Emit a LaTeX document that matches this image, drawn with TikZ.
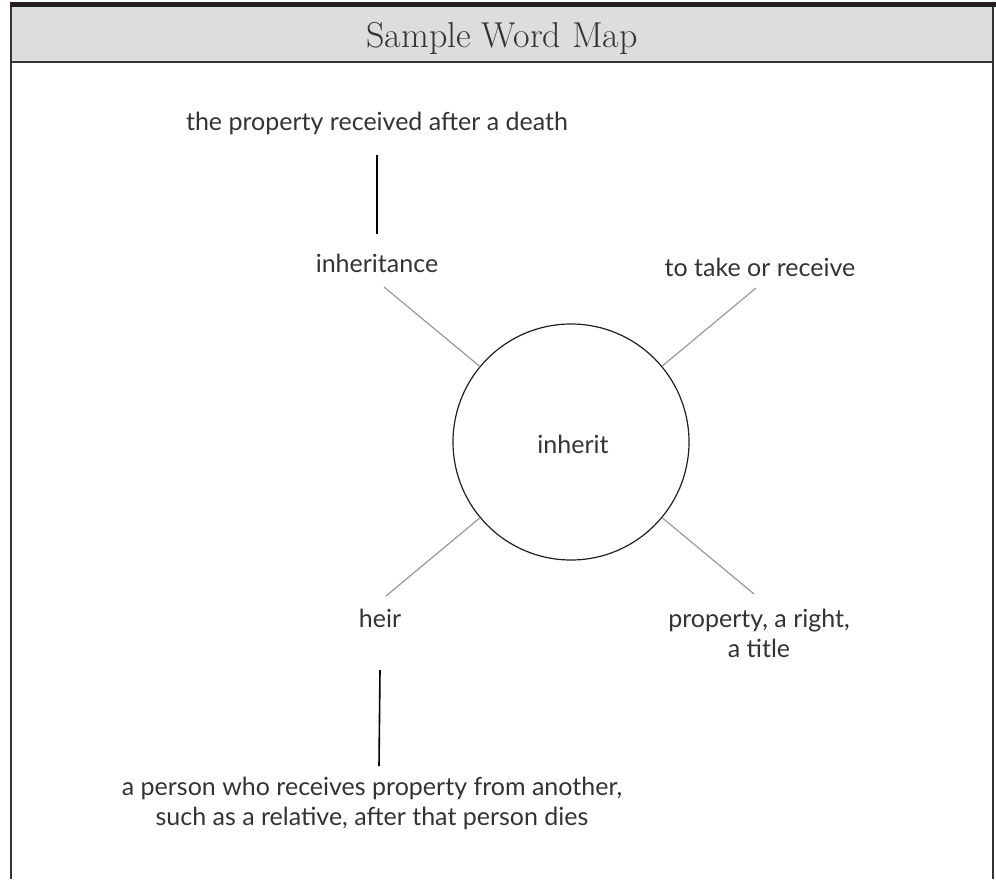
\documentclass[tikz,border=0pt]{standalone}
\usepackage{fontspec}
\newfontfamily\handfont{Lato}
\usetikzlibrary{positioning}
\definecolor{inkgray}{HTML}{333333}
\definecolor{barblack}{HTML}{231F20}
\definecolor{headgray}{HTML}{DCDDDF}
\definecolor{spokegray}{HTML}{999999}
\tikzset
{
    wordtext/.style = {font=\handfont\fontsize{25}{29.5}\selectfont, text=inkgray, align=center, anchor=base, inner sep=0pt},
    hub/.style      = {circle, draw=barblack, line width=1.2pt, minimum size=236pt, inner sep=0pt},
    spoke/.style    = {draw=spokegray, line width=1.2pt},
    stem/.style     = {draw=black, line width=1.6pt},
    frameline/.style = {draw=inkgray, line width=2pt}
}
\begin{document}
\begin{tikzpicture}[x=1pt, y=-1pt]
\useasboundingbox (0,0) rectangle (996,879);
\fill [barblack] (10,2) rectangle (996,7);
\fill [headgray] (11,7) rectangle (992,62);
\draw [frameline] (11,62) -- (992,62);
\draw [frameline] (11,7) -- (11,879);
\draw [frameline] (993,7) -- (993,879);
\node [font=\fontsize{36}{40}\selectfont, text=inkgray, anchor=base] at (502,47) (title) {Sample Word Map};
\node [hub] at (571,442) (word) {};
\node [wordtext] at (573,453) (inherit) {inherit};
\node [wordtext] at (377,130) (def) {the property received after a death};
\node [wordtext] at (377,272) (inheritance) {inheritance};
\node [wordtext] at (760,276) (receive) {to take or receive};
\node [wordtext] at (380,627) (heir) {heir};
\node [wordtext] at (759,657) (property) {property, a right,\\a title};
\node [wordtext] at (372,825) (meaning) {a person who receives property from another,\\such as a relative, after that person dies};
\coordinate (inh-end) at (384,287);
\coordinate (rec-end) at (756,288);
\coordinate (heir-end) at (386,596);
\coordinate (prop-end) at (754,594);
\draw [spoke] (inh-end) -- (word);
\draw [spoke] (rec-end) -- (word);
\draw [spoke] (heir-end) -- (word);
\draw [spoke] (prop-end) -- (word);
\draw [stem] ([yshift=-25pt]def.base) -- ++(0,79);
\draw [stem] ([yshift=-43pt]heir.base) -- ++(-1,96);
\end{tikzpicture}
\end{document}
